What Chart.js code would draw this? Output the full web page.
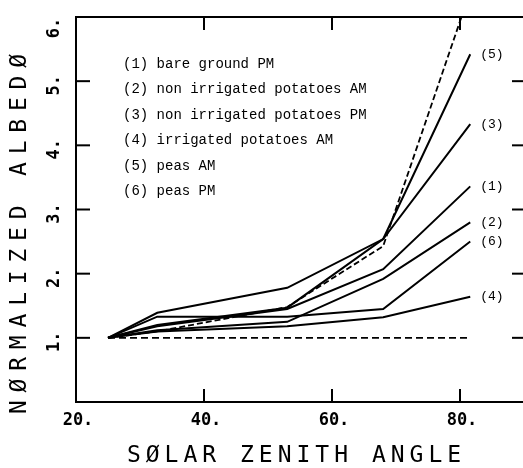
<!DOCTYPE html>
<html><head><meta charset="utf-8">
<script src="https://cdn.jsdelivr.net/npm/chart.js@4"></script>
<style>html,body{margin:0;padding:0;background:#fff;overflow:hidden;} #wrap{width:540px;height:468px;}</style>
</head><body><div id="wrap"><canvas id="c" width="540" height="468"></canvas></div>
<script>
// Solar zenith angles (degrees)
const angles = [25, 32.7, 53, 68, 81.6];
// Normalized albedo series
const bareGroundPM        = [1.0, 1.18, 1.45, 2.07, 3.36];
const nonIrrPotatoesAM    = [1.0, 1.12, 1.25, 1.92, 2.80];
const nonIrrPotatoesPM    = [1.0, 1.39, 1.78, 2.54, 4.33];
const irrPotatoesAM       = [1.0, 1.10, 1.18, 1.32, 1.64];
const peasAM              = [1.0, 1.20, 1.47, 2.54, 5.42];
const peasPM              = [1.0, 1.33, 1.33, 1.45, 2.50];
const referenceCurve      = [1.0, 1.10, 1.48, 2.43, 6.40];
const unityLine           = [1.0, 1.0, 1.0, 1.0, 1.0];

const seriesNames = ['(1) bare ground PM','(2) non irrigated potatoes AM','(3) non irrigated potatoes PM','(4) irrigated potatoes AM','(5) peas AM','(6) peas PM'];
const endLabels = ['(1)','(2)','(3)','(4)','(5)','(6)'];
const xTicks = [20, 40, 60, 80];
const yTicks = [1, 2, 3, 4, 5, 6];
const xTitle = 'SØLAR ZENITH ANGLE';
const yTitle = 'NØRMALIZED ALBEDØ';

const toPts = arr => angles.map((a, i) => ({x: a, y: arr[i]}));
const solid = (label, arr) => ({label, data: toPts(arr), borderColor:'#000', borderWidth:2, pointRadius:0, tension:0, fill:false});

const datasets = [
  solid(seriesNames[0], bareGroundPM),
  solid(seriesNames[1], nonIrrPotatoesAM),
  solid(seriesNames[2], nonIrrPotatoesPM),
  solid(seriesNames[3], irrPotatoesAM),
  solid(seriesNames[4], peasAM),
  solid(seriesNames[5], peasPM),
  {label:'reference', data: toPts(referenceCurve), borderColor:'#000', borderWidth:1.8, borderDash:[6,3], pointRadius:0, tension:0, fill:false},
  {label:'unity', data: toPts(unityLine), borderColor:'#000', borderWidth:1.6, borderDash:[7,4], pointRadius:0, tension:0, fill:false}
];

const decor = {
  id: 'decor',
  afterDraw(chart) {
    const ctx = chart.ctx, ca = chart.chartArea, xs = chart.scales.x, ys = chart.scales.y;
    ctx.save();
    ctx.strokeStyle = '#000'; ctx.fillStyle = '#000'; ctx.lineWidth = 2;
    const line = (a,b,c,d) => { ctx.beginPath(); ctx.moveTo(a,b); ctx.lineTo(c,d); ctx.stroke(); };
    // frame: left, bottom, top (right edge lies beyond the visible page)
    line(ca.left, ca.top, ca.left, ca.bottom);
    line(ca.left - 1, ca.bottom, ca.right, ca.bottom);
    line(ca.left - 1, ca.top, ca.right, ca.top);
    xTicks.forEach(v => {
      const px = xs.getPixelForValue(v);
      if (v !== xs.min) { line(px, ca.bottom, px, ca.bottom - 13); line(px, ca.top, px, ca.top + 13); }
    });
    yTicks.forEach(v => {
      const py = ys.getPixelForValue(v);
      if (v !== ys.max) { line(ca.left, py, ca.left + 14, py); line(ca.right, py, ca.right - 12, py); }
    });
    // tick labels
    ctx.font = 'bold 17px "DejaVu Sans Mono"';
    ctx.textAlign = 'center'; ctx.textBaseline = 'middle';
    xTicks.forEach(v => ctx.fillText(v + '.', xs.getPixelForValue(v) + 2, ca.bottom + 19));
    yTicks.forEach(v => {
      const py = ys.getPixelForValue(v);
      ctx.save(); ctx.translate(ca.left - 21, Math.max(py + 4, 28)); ctx.rotate(-Math.PI/2);
      ctx.fillText(v + '.', 0, 0); ctx.restore();
    });
    // axis titles
    ctx.font = '23px "DejaVu Sans Mono"';
    ctx.textAlign = 'left';
    ctx.letterSpacing = '5px';
    let w = ctx.measureText(xTitle).width - 5;
    ctx.fillText(xTitle, 294 - w/2, 456);
    ctx.save(); ctx.translate(20, 234); ctx.rotate(-Math.PI/2);
    ctx.letterSpacing = '7.8px';
    w = ctx.measureText(yTitle).width - 7.8;
    ctx.fillText(yTitle, -w/2, 0); ctx.restore();
    ctx.letterSpacing = '0px';
    // legend text
    ctx.font = '14px "Liberation Mono"';
    seriesNames.forEach((s, i) => ctx.fillText(s, ca.left + 47, ca.top + 47 + i * 25.5));
    // end labels
    ctx.font = '13px "Liberation Mono"';
    const last = angles.length - 1;
    endLabels.forEach((s, i) => {
      const d = chart.data.datasets[i].data[last];
      ctx.fillText(s, xs.getPixelForValue(d.x) + 10, ys.getPixelForValue(d.y));
    });
    ctx.restore();
  }
};

new Chart(document.getElementById('c'), {
  type: 'line',
  data: { datasets },
  options: {
    responsive: false, animation: false, devicePixelRatio: 1,
    layout: { padding: { left: 76, top: 17, right: 16, bottom: 66 } },
    plugins: { legend: { display: false }, tooltip: { enabled: false } },
    scales: {
      x: { type: 'linear', min: 20, max: 90, grid: { display: false, drawTicks: false }, border: { display: false }, ticks: { display: false },
           afterBuildTicks: s => { s.ticks = xTicks.map(v => ({value: v})); } },
      y: { type: 'linear', min: 0, max: 6, grid: { display: false, drawTicks: false }, border: { display: false }, ticks: { display: false },
           afterBuildTicks: s => { s.ticks = yTicks.map(v => ({value: v})); } }
    }
  },
  plugins: [decor]
});
</script>
</body></html>
